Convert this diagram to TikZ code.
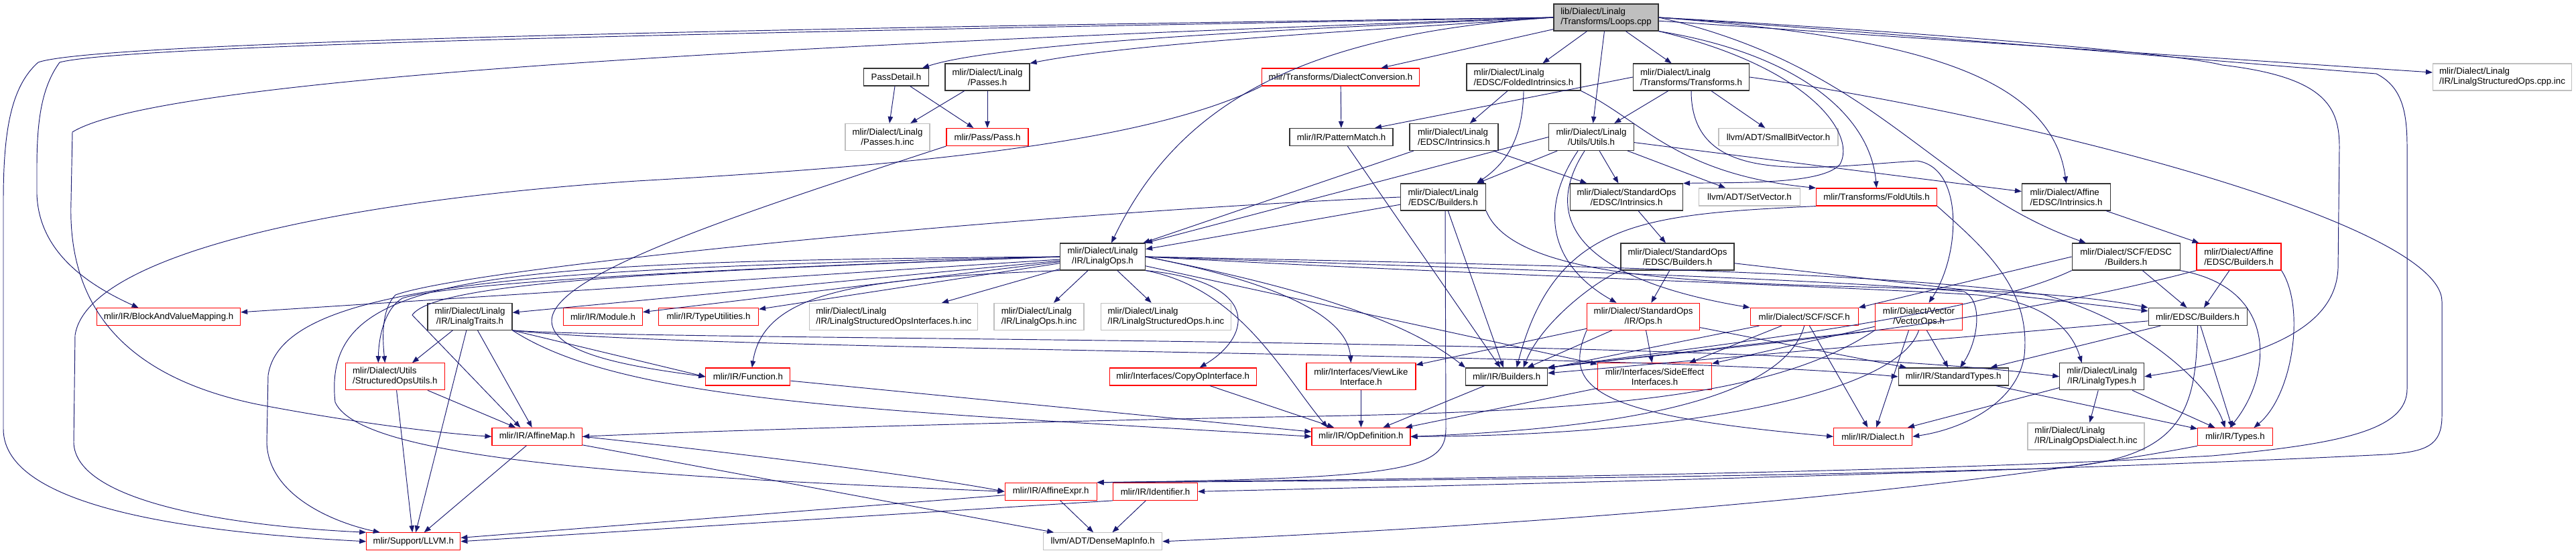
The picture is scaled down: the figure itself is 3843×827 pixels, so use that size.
\documentclass[tikz,border=0pt]{standalone}
\usepackage{fontspec}
\setmainfont{Liberation Sans}
\usetikzlibrary{arrows.meta}
\definecolor{edgec}{RGB}{25,25,112}
\definecolor{boxg}{RGB}{191,191,191}
\definecolor{boxr}{RGB}{255,0,0}
\newlength\twwa \newlength\twwb
\newcommand\twol[2]{\settowidth\twwa{#1}\settowidth\twwb{#2}\ifdim\twwa<\twwb\makebox[\twwb][l]{#1}\else#1\fi\\#2}
\tikzset{
  nd/.style={draw, line width=1.15pt, inner sep=0pt, align=center, font=\fontsize{13.3pt}{15pt}\selectfont},
  blk/.style={nd, draw=black!80},
  redb/.style={nd, draw=boxr},
  grayb/.style={nd, draw=boxg},
  rootbox/.style={nd, draw=black!80, fill=boxg},
  dep/.style={draw=edgec, line width=0.95pt, -{Triangle[length=10pt,width=7.5pt]}},
}
\begin{document}
\begin{tikzpicture}[x=1pt,y=-1pt]
\useasboundingbox (0,0) rectangle (3843,827);
% nodes
\node[rootbox,minimum width=156pt,minimum height=40pt] (root) at (2396,26) {\twol{lib/Dialect/Linalg}{/Transforms/Loops.cpp}};
\node[blk,minimum width=97pt,minimum height=26pt] (PD) at (1337,115) {PassDetail.h};
\node[blk,minimum width=126pt,minimum height=40pt] (LP) at (1473,115) {\twol{mlir/Dialect/Linalg}{/Passes.h}};
\node[redb,minimum width=235pt,minimum height=26pt] (DC) at (2000,115) {mlir/Transforms/DialectConversion.h};
\node[blk,minimum width=170pt,minimum height=40pt] (FI) at (2273,115) {\twol{mlir/Dialect/Linalg}{/EDSC/FoldedIntrinsics.h}};
\node[blk,minimum width=173pt,minimum height=40pt] (TR) at (2523,115) {\twol{mlir/Dialect/Linalg}{/Transforms/Transforms.h}};
\node[grayb,minimum width=207pt,minimum height=40pt] (SCI) at (3733,115) {\twol{mlir/Dialect/Linalg}{/IR/LinalgStructuredOps.cpp.inc}};
\node[grayb,minimum width=126pt,minimum height=40pt] (PHI) at (1324,204.5) {\twol{mlir/Dialect/Linalg}{/Passes.h.inc}};
\node[redb,minimum width=122pt,minimum height=26pt] (PASS) at (1473,204.5) {mlir/Pass/Pass.h};
\node[blk,minimum width=154pt,minimum height=26pt] (PM) at (2001,204.5) {mlir/IR/PatternMatch.h};
\node[blk,minimum width=132pt,minimum height=40pt] (LEI) at (2169,204.5) {\twol{mlir/Dialect/Linalg}{/EDSC/Intrinsics.h}};
\node[blk,minimum width=127pt,minimum height=40pt] (UT) at (2374,204.5) {\twol{mlir/Dialect/Linalg}{/Utils/Utils.h}};
\node[grayb,minimum width=178pt,minimum height=26pt] (SBV) at (2653,204.5) {llvm/ADT/SmallBitVector.h};
\node[blk,minimum width=127pt,minimum height=40pt] (LEB) at (2153,294) {\twol{mlir/Dialect/Linalg}{/EDSC/Builders.h}};
\node[blk,minimum width=168pt,minimum height=40pt] (SEI) at (2426.5,294) {\twol{mlir/Dialect/StandardOps}{/EDSC/Intrinsics.h}};
\node[grayb,minimum width=151pt,minimum height=26pt] (SV) at (2610,294) {llvm/ADT/SetVector.h};
\node[redb,minimum width=180pt,minimum height=26pt] (FU) at (2799.5,294) {mlir/Transforms/FoldUtils.h};
\node[blk,minimum width=132pt,minimum height=40pt] (AEI) at (3082.5,294) {\twol{mlir/Dialect/Affine}{/EDSC/Intrinsics.h}};
\node[blk,minimum width=127pt,minimum height=40pt] (LO) at (1645,383) {\twol{mlir/Dialect/Linalg}{/IR/LinalgOps.h}};
\node[blk,minimum width=169pt,minimum height=40pt] (SEB) at (2502.5,383) {\twol{mlir/Dialect/StandardOps}{/EDSC/Builders.h}};
\node[blk,minimum width=161pt,minimum height=40pt] (SCFB) at (3171.7,383) {\twol{mlir/Dialect/SCF/EDSC}{/Builders.h}};
\node[redb,minimum width=126pt,minimum height=40pt] (AEB) at (3340,383) {\twol{mlir/Dialect/Affine}{/EDSC/Builders.h}};
\node[redb,minimum width=214pt,minimum height=26pt] (BVM) at (251.6,472.7) {mlir/IR/BlockAndValueMapping.h};
\node[blk,minimum width=126pt,minimum height=40pt] (LT) at (701,472.3) {\twol{mlir/Dialect/Linalg}{/IR/LinalgTraits.h}};
\node[redb,minimum width=118pt,minimum height=26pt] (MOD) at (899.5,472.7) {mlir/IR/Module.h};
\node[redb,minimum width=149pt,minimum height=26pt] (TU) at (1057,472.7) {mlir/IR/TypeUtilities.h};
\node[grayb,minimum width=251pt,minimum height=40pt] (LSOI) at (1333.3,472.3) {\twol{mlir/Dialect/Linalg}{/IR/LinalgStructuredOpsInterfaces.h.inc}};
\node[grayb,minimum width=134pt,minimum height=40pt] (LOI) at (1550,472.3) {\twol{mlir/Dialect/Linalg}{/IR/LinalgOps.h.inc}};
\node[grayb,minimum width=194pt,minimum height=40pt] (LSOHI) at (1739.5,472.3) {\twol{mlir/Dialect/Linalg}{/IR/LinalgStructuredOps.h.inc}};
\node[redb,minimum width=168pt,minimum height=40pt] (SOPS) at (2451.6,472.3) {\twol{mlir/Dialect/StandardOps}{/IR/Ops.h}};
\node[redb,minimum width=161pt,minimum height=26pt] (SCF) at (2691.7,472.5) {mlir/Dialect/SCF/SCF.h};
\node[redb,minimum width=130.5pt,minimum height=40pt] (VEC) at (2862.5,472.3) {\twol{mlir/Dialect/Vector}{/VectorOps.h}};
\node[blk,minimum width=147pt,minimum height=26pt] (EB) at (3278.6,472.5) {mlir/EDSC/Builders.h};
\node[redb,minimum width=148pt,minimum height=40pt] (SOU) at (589.3,561.8) {\twol{mlir/Dialect/Utils}{/StructuredOpsUtils.h}};
\node[redb,minimum width=126pt,minimum height=26pt] (FN) at (1115.9,562) {mlir/IR/Function.h};
\node[redb,minimum width=219pt,minimum height=26pt] (COI) at (1764.7,562) {mlir/Interfaces/CopyOpInterface.h};
\node[redb,minimum width=163pt,minimum height=40pt] (VLI) at (2030.4,561.8) {\twol{mlir/Interfaces/ViewLike}{Interface.h}};
\node[blk,minimum width=122pt,minimum height=26pt] (BLD) at (2247.6,562) {mlir/IR/Builders.h};
\node[redb,minimum width=170pt,minimum height=40pt] (SEFF) at (2468.6,561.8) {\twol{mlir/Interfaces/SideEffect}{Interfaces.h}};
\node[blk,minimum width=164pt,minimum height=26pt] (ST) at (2914.2,562) {mlir/IR/StandardTypes.h};
\node[blk,minimum width=126pt,minimum height=40pt] (LTY) at (3135.7,561.8) {\twol{mlir/Dialect/Linalg}{/IR/LinalgTypes.h}};
\node[redb,minimum width=134.6pt,minimum height=26pt] (AM) at (801.3,651.3) {mlir/IR/AffineMap.h};
\node[redb,minimum width=147pt,minimum height=26pt] (OD) at (2030.4,651.3) {mlir/IR/OpDefinition.h};
\node[redb,minimum width=117pt,minimum height=26pt] (DI) at (2794.2,651.3) {mlir/IR/Dialect.h};
\node[grayb,minimum width=174pt,minimum height=40pt] (LODI) at (3111.9,651) {\twol{mlir/Dialect/Linalg}{/IR/LinalgOpsDialect.h.inc}};
\node[redb,minimum width=111.6pt,minimum height=26pt] (TY) at (3334.4,651.7) {mlir/IR/Types.h};
\node[redb,minimum width=137pt,minimum height=26pt] (AE) at (1567.6,733.3) {mlir/IR/AffineExpr.h};
\node[redb,minimum width=126pt,minimum height=26pt] (ID) at (1723.6,733.3) {mlir/IR/Identifier.h};
\node[redb,minimum width=140pt,minimum height=26pt] (LLVM) at (616.8,807.8) {mlir/Support/LLVM.h};
\node[grayb,minimum width=177pt,minimum height=26pt] (DMI) at (1645.2,807.8) {llvm/ADT/DenseMapInfo.h};

% straight connectors
\foreach \a/\b in {PD/PHI,PD/PASS,LP/PHI,LP/PASS,DC/PM,root/DC,root/FI,root/TR,root/UT,root/SCI,
  FI/LEI,TR/UT,TR/SBV,LEI/LO,LEI/SEI,UT/LEB,UT/SEI,UT/SV,UT/AEI,LEB/LO,LEB/BLD,SEI/SEB,SEB/SOPS,SEB/EB,
  PM/BLD,AEI/AEB,AEB/EB,SCFB/EB,LO/LT,LO/BVM,LO/MOD,LO/TU,LO/LSOI,LO/LOI,LO/LSOHI,LO/SEFF,
  LT/SOU,LT/AM,LT/LLVM,SOU/AM,SOU/LLVM,FN/OD,COI/OD,VLI/OD,BLD/OD,SEFF/OD,SOPS/VLI,SOPS/BLD,SOPS/SEFF,SOPS/ST,
  SCF/BLD,SCF/SEFF,SCF/DI,VEC/SEFF,VEC/ST,EB/BLD,EB/ST,EB/TY,ST/TY,LTY/DI,LTY/TY,LTY/LODI,
  AM/LLVM,AM/DMI,AE/DMI,ID/DMI,AE/LLVM}
  \draw[dep] (\a) -- (\b);
\draw[dep] (TR.west) -- ([xshift=50pt]PM.north);
\draw[dep] (UT.west) -- (LO.north east);
\draw[dep] (SCFB.west) -- (SCF.north east);
\draw[dep] (VEC.south west) -- (BLD.north east);
\draw[dep] (LT.south east) -- (FN.west);
\draw[dep] (ID.south west) -- (LLVM.east);
\draw[dep] ([xshift=-15pt]VEC.south) -- ([xshift=5pt]DI.north);

% curved connectors from the root
\draw[dep] (root.west) .. controls (2050,38) and (1500,60) .. ([xshift=39pt]PD.north);
\draw[dep] (root.west) .. controls (2100,42) and (1700,62) .. (LP.north east);
\draw[dep] (root.west) .. controls (1950,50) and (1760,150) .. ([xshift=13pt]LO.north);
\draw[dep] (root.west) .. controls (1300,40) and (150,60) .. (57,93) .. controls (15,130) and (5,200) .. (5,300) -- (5,640) .. controls (5,760) and (300,795) .. (LLVM.west);
\draw[dep] (root.west) .. controls (1300,45) and (200,64) .. (89,93) .. controls (62,130) and (55,180) .. (55,250) -- (55,290) .. controls (58,370) and (120,420) .. ([xshift=-45pt]BVM.north);
\draw[dep] (root.west) .. controls (1300,62) and (250,110) .. (108,197) -- (106,300) .. controls (100,470) and (200,565) .. (383,603) .. controls (550,635) and (680,648) .. (AM.west);
\draw[dep] (root.south east) .. controls (2700,100) and (2770,200) .. (2745,245) .. controls (2720,275) and (2600,272) .. (SEI.north east);
\draw[dep] (root.south east) .. controls (2680,80) and (2790,170) .. (FU.north);
\draw[dep] (root.east) .. controls (2850,55) and (3060,110) .. (AEI.north);
\draw[dep] (root.east) .. controls (2800,100) and (2880,280) .. ([xshift=-60pt]SCFB.north);
\draw[dep] (root.east) .. controls (2900,50) and (3250,80) .. (3315,97) .. controls (3470,115) and (3490,160) .. (3490,220) -- (3488,400) .. controls (3485,480) and (3400,530) .. (LTY.east);
\draw[dep] (root.east) .. controls (2900,55) and (3350,95) .. (3545,110) .. controls (3585,130) and (3591,170) .. (3591,220) -- (3591,580) .. controls (3591,640) and (3500,662) .. (3300,680) .. controls (2800,708) and (2000,716) .. (AE.north east);

% other curved connectors
\draw[dep] (DC.south west) .. controls (1700,220) and (1300,250) .. (950,270) .. controls (500,300) and (130,380) .. (112,500) -- (110,660) .. controls (112,750) and (350,785) .. (LLVM.north west);
\draw[dep] (PASS.south west) .. controls (1100,320) and (820,410) .. (823,480) .. controls (826,530) and (950,548) .. (FN.west);
\draw[dep] (TR.east) .. controls (3000,170) and (3643,330) .. (3643,450) -- (3643,620) .. controls (3643,665) and (3620,674) .. (3560,678) .. controls (3000,706) and (2100,726) .. (ID.east);
\draw[dep] (TR.south) .. controls (2523,280) and (2700,250) .. (2860,240) .. controls (2930,250) and (2925,380) .. ([xshift=15pt]VEC.north);
\draw[dep] (FI.south) .. controls (2272,200) and (2252,240) .. ([xshift=50pt]LEB.north);
\draw[dep] (FI.south east) .. controls (2450,180) and (2500,260) .. (FU.north west);
\draw[dep] ([xshift=-20pt]UT.south) .. controls (2290,320) and (2320,400) .. ([xshift=-40pt]SOPS.north);
\draw[dep] ([xshift=-10pt]UT.south) .. controls (2290,340) and (2380,420) .. (SCF.north west);
\draw[dep] (LEB.west) .. controls (1500,320) and (700,400) .. (590,440) .. controls (570,460) and (570,500) .. ([xshift=-15pt]SOU.north);
\draw[dep] ([xshift=3pt]LEB.south) -- (2157,640) .. controls (2157,700) and (2100,714) .. (AE.north east);
\draw[dep] (LEB.south east) .. controls (2280,470) and (2900,400) .. (EB.north west);
\draw[dep] (SEB.south west) .. controls (2380,420) and (2300,480) .. ([xshift=25pt]BLD.north);
\draw[dep] (FU.south west) .. controls (2450,320) and (2320,330) .. ([xshift=15pt]BLD.north);
\draw[dep] (FU.south east) .. controls (2960,370) and (3030,430) .. (3020,530) .. controls (3010,600) and (2930,640) .. (DI.east);
\draw[dep] (AEB.south west) .. controls (2950,490) and (2550,520) .. (BLD.north east);
\draw[dep] (SCFB.south west) .. controls (2950,470) and (2600,510) .. (BLD.north east);
\draw[dep] (AEB.south east) .. controls (3440,460) and (3420,590) .. ([xshift=28pt]TY.north);
\draw[dep] (SCFB.south east) .. controls (3400,430) and (3390,560) .. ([xshift=-8pt]TY.north);
\draw[dep] (LO.west) .. controls (1100,400) and (680,420) .. (600,445) .. controls (575,460) and (565,500) .. ([xshift=-25pt]SOU.north);
\draw[dep] (LO.west) .. controls (1000,405) and (650,420) .. (615,470) -- ([xshift=-25pt]AM.north);
\draw[dep] (LO.west) .. controls (800,400) and (420,420) .. (400,560) -- (398,660) .. controls (400,740) and (500,780) .. ([xshift=-50pt]LLVM.north);
\draw[dep] (LO.west) .. controls (700,390) and (480,410) .. (500,600) .. controls (540,690) and (1000,712) .. (AE.west);
\draw[dep] (LO.south west) .. controls (1300,415) and (1140,430) .. ([xshift=6pt]FN.north);
\draw[dep] (LO.south east) .. controls (1850,430) and (1915,560) .. ([xshift=-50pt]OD.north);
\draw[dep] (LO.south east) .. controls (1880,420) and (1870,500) .. ([xshift=25pt]COI.north);
\draw[dep] (LO.east) .. controls (1900,420) and (2010,470) .. ([xshift=-15pt]VLI.north);
\draw[dep] (LO.east) .. controls (1950,430) and (2100,480) .. (BLD.north west);
\draw[dep] (LO.east) .. controls (2200,410) and (2700,425) .. (2950,440) .. controls (3050,450) and (3090,490) .. ([xshift=-30pt]LTY.north);
\draw[dep] (LO.east) .. controls (2200,400) and (2700,415) .. (2930,435) .. controls (2960,450) and (2950,510) .. ([xshift=10pt]ST.north);
\draw[dep] (LO.east) .. controls (2300,395) and (2800,405) .. (3050,440) .. controls (3200,480) and (3300,580) .. ([xshift=-15pt]TY.north);
\draw[dep] (LT.south east) .. controls (1000,510) and (2600,500) .. (LTY.west);
\draw[dep] (LT.south east) .. controls (1050,525) and (2450,525) .. (ST.west);
\draw[dep] (LT.south east) .. controls (930,600) and (1300,612) .. (OD.west);
\draw[dep] (VEC.south west) .. controls (2650,590) and (2400,615) .. (1900,622) .. controls (1400,632) and (1000,645) .. (AM.east);
\draw[dep] (SCF.south) .. controls (2660,600) and (2400,640) .. (OD.east);
\draw[dep] (VEC.south) .. controls (2830,590) and (2500,650) .. (OD.east);
\draw[dep] (SOPS.south west) .. controls (2330,580) and (2380,620) .. (DI.west);
\draw[dep] (AM.east) .. controls (1000,665) and (1350,705) .. (AE.west);
\draw[dep] (TY.south west) .. controls (3100,700) and (2600,770) .. (DMI.east);
\draw[dep] (EB.south) .. controls (3275,620) and (3260,700) .. (3000,700) .. controls (2600,712) and (2000,718) .. (AE.north east);
\end{tikzpicture}
\end{document}
